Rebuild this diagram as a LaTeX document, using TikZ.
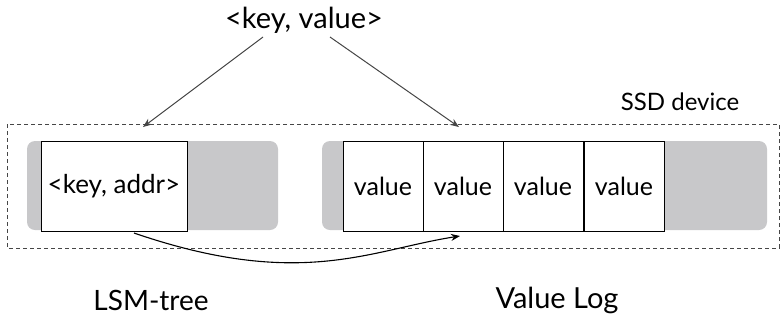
\documentclass[tikz,border=0pt]{standalone}
\usepackage{fontspec}
\setmainfont{Lato}
\usetikzlibrary{arrows.meta}
\definecolor{slotgray}{RGB}{200,200,202}
\definecolor{arrowgray}{RGB}{70,70,70}
\tikzset{
  slotbox/.style={draw=black, fill=white, line width=0.8pt, minimum width=80pt, minimum height=90pt, inner sep=0pt},
  feed/.style={draw=arrowgray, line width=1pt, -{Stealth[length=9pt,width=7pt]}}
}

\begin{document}
\begin{tikzpicture}[x=1pt,y=-1pt]
  \useasboundingbox (0,0) rectangle (781,325);

  % SSD device
  \draw[dashed, line width=0.7pt, dash pattern=on 4pt off 3pt, draw=arrowgray] (7,124) rectangle (779,248);
  \node[black, font=\fontsize{24}{28}\selectfont] (ssd) at (680,102) {SSD device};

  % LSM-tree
  \fill[slotgray, rounded corners=8pt] (27,141) rectangle (278,230);
  \node[slotbox, minimum width=146pt] (kaddr) at (114,186) {\fontsize{26}{30}\selectfont <key, addr>};
  \node[black, font=\fontsize{28}{32}\selectfont] (lsm) at (151,300) {LSM-tree};

  % Value Log
  \fill[slotgray, rounded corners=8pt] (322,141) rectangle (767,230);
  \foreach \i/\x in {1/383, 2/463, 3/543, 4/624} {
    \node[slotbox] (val\i) at (\x,186) {\fontsize{25}{29}\selectfont value};
  }
  \node[black, font=\fontsize{29}{33}\selectfont] (vlog) at (557,300) {Value Log};

  % incoming pair
  \node[black, font=\fontsize{29}{33}\selectfont] (kv) at (304,20) {<key, value>};
  \coordinate (kvl) at (263,37);
  \coordinate (kvr) at (330,37);
  \coordinate (lsmin) at (143,127);
  \coordinate (login) at (459,127);
  \draw[feed] (kvl) -- (lsmin);
  \draw[feed] (kvr) -- (login);

  % address points into the log
  \coordinate (addrout) at (134,233);
  \coordinate (addrin) at (460,236);
  \draw[draw=black, line width=1.1pt, -{Stealth[length=9pt,width=7pt]}] (addrout) .. controls (300,290) and (370,250) .. (addrin);
\end{tikzpicture}
\end{document}
